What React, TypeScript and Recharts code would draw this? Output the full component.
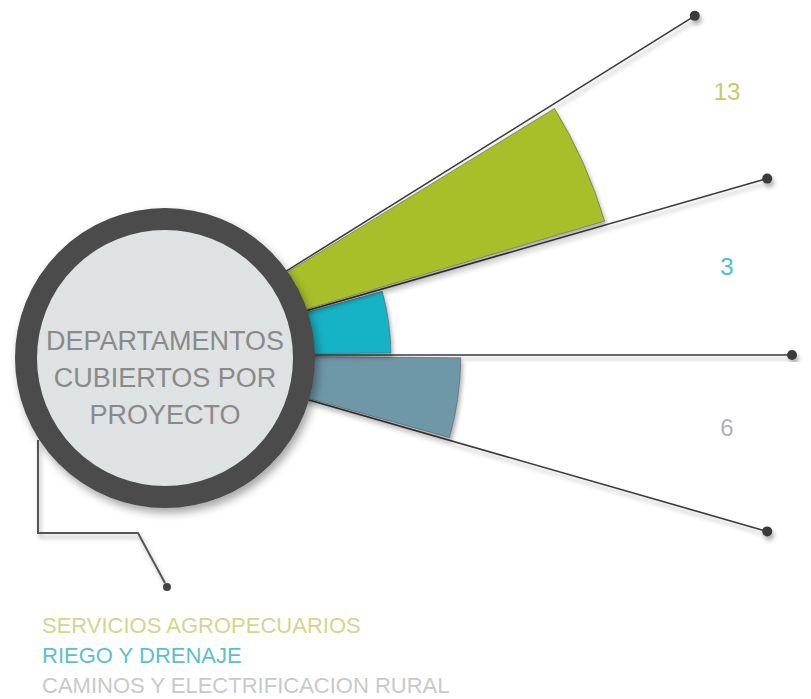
import {
  RadialBarChart,
  RadialBar,
  PolarAngleAxis,
  PolarRadiusAxis,
  Cell,
  LabelList,
  Sector,
} from "recharts";

// categories in angle order (bottom -> top)
const categories = [
  "CAMINOS Y ELECTRIFICACION RURAL",
  "RIEGO Y DRENAJE",
  "SERVICIOS AGROPECUARIOS",
];
const departamentos = [6, 3, 13];
const centerTitle = ["DEPARTAMENTOS", "CUBIERTOS POR", "PROYECTO"];

const data = categories.map((name, i) => ({ name, value: departamentos[i] }));

const W = 811;
const H = 699;
const CX = 152;
const CY = 355;
const START_ANGLE = -16;
const END_ANGLE = 32;
const INNER = 169;
const OUTER = 472;
const MAX_VALUE = 13;
const GUIDE_LEN = 640;
const LABEL_X = 727;

const barColors = ["#6e97a8", "#18b2c6", "#a8bf2b"];
const valueColors = ["#b3b3b3", "#4dbbd0", "#c6ca66"];
const legendColors = ["#c9c9c9", "#5cbfd0", "#d3d68c"];

const FONT = "'Liberation Sans', Arial, sans-serif";

const rad = (deg: number) => (deg * Math.PI) / 180;

// band boundaries of the angle axis
const step = (END_ANGLE - START_ANGLE) / categories.length;
const guideAngles = Array.from({ length: categories.length + 1 }, (_, i) => END_ANGLE - i * step);

const renderSector = (props: any) => <Sector {...props} innerRadius={0} />;

const renderValue = (props: any) => {
  const { viewBox, value } = props;
  if (!viewBox) return null;
  const idx = props.index ?? departamentos.indexOf(Number(value));
  const mid = (viewBox.startAngle + viewBox.endAngle) / 2;
  const y = viewBox.cy - (LABEL_X - viewBox.cx) * Math.tan(rad(mid)) - 6;
  return (
    <text
      x={LABEL_X}
      y={y}
      textAnchor="middle"
      dominantBaseline="middle"
      fontFamily={FONT}
      fontSize={24}
      fill={valueColors[idx]}
    >
      {value}
    </text>
  );
};

export default function App() {
  return (
    <div style={{ position: "absolute", left: 0, top: 0, width: W, height: H, background: "#fff" }}>
      {/* guide lines behind the sectors */}
      <svg width={W} height={H} style={{ position: "absolute", left: 0, top: 0 }}>
        <defs>
          <filter id="lineShadow" x="-10%" y="-10%" width="120%" height="130%">
            <feDropShadow dx="2" dy="4" stdDeviation="2" floodColor="#000" floodOpacity="0.3" />
          </filter>
        </defs>
        {guideAngles.map((a) => {
          const x2 = CX + GUIDE_LEN * Math.cos(rad(a));
          const y2 = CY - GUIDE_LEN * Math.sin(rad(a));
          return (
            <g key={a} filter="url(#lineShadow)">
              <line x1={CX} y1={CY} x2={x2} y2={y2} stroke="#3a3a3a" strokeWidth={1.6} />
              <circle cx={x2} cy={y2} r={5} fill="#3a3a3a" />
            </g>
          );
        })}
      </svg>

      <div style={{ position: "absolute", left: 0, top: 0 }}>
        {/* bars sweep clockwise from the start of their band, so the range is shifted one band */}
        <RadialBarChart
          width={W}
          height={H}
          data={data}
          layout="centric"
          cx={CX}
          cy={CY}
          startAngle={START_ANGLE + step}
          endAngle={END_ANGLE + step}
          innerRadius={INNER}
          outerRadius={OUTER}
          barCategoryGap="3%"
          margin={{ top: 0, right: 0, bottom: 0, left: 0 }}
        >
          <PolarAngleAxis type="category" dataKey="name" axisLine={false} tick={false} tickLine={false} />
          <PolarRadiusAxis
            type="number"
            domain={[0, MAX_VALUE]}
            allowDataOverflow
            axisLine={false}
            tick={false}
            tickLine={false}
          />
          <RadialBar
            dataKey="value"
            isAnimationActive={false}
            shape={renderSector}
            stroke="#4a4a4a"
            strokeOpacity={0.5}
            strokeWidth={1}
            filter="url(#lineShadow)"
          >
            {data.map((d, i) => (
              <Cell key={d.name} fill={barColors[i]} />
            ))}
            <LabelList dataKey="value" content={renderValue} />
          </RadialBar>
        </RadialBarChart>
      </div>

      {/* centre disc, title and connector */}
      <svg width={W} height={H} style={{ position: "absolute", left: 0, top: 0 }}>
        <defs>
          <filter id="ringShadow" x="-20%" y="-20%" width="140%" height="140%">
            <feDropShadow dx="3" dy="5" stdDeviation="4" floodColor="#000" floodOpacity="0.35" />
          </filter>
        </defs>
        <polyline
          points="38,440 38,533 138,533 165,583"
          fill="none"
          stroke="#555"
          strokeWidth={2}
          filter="url(#lineShadow)"
        />
        <circle cx={167} cy={587} r={4} fill="#444" />
        <circle
          cx={165}
          cy={358}
          r={139}
          fill="#dee2e2"
          stroke="#4b4b4b"
          strokeWidth={22}
          filter="url(#ringShadow)"
        />
        {centerTitle.map((t, i) => (
          <text
            key={t}
            x={165}
            y={350 + i * 37}
            textAnchor="middle"
            fontFamily={FONT}
            fontSize={27}
            fill="#8a8a8a"
          >
            {t}
          </text>
        ))}
      </svg>

      <div style={{ position: "absolute", left: 42, top: 611, fontFamily: FONT, fontSize: 22, lineHeight: "30px" }}>
        {[...categories].reverse().map((c, i) => (
          <div key={c} style={{ color: legendColors[categories.length - 1 - i] }}>
            {c}
          </div>
        ))}
      </div>
    </div>
  );
}
